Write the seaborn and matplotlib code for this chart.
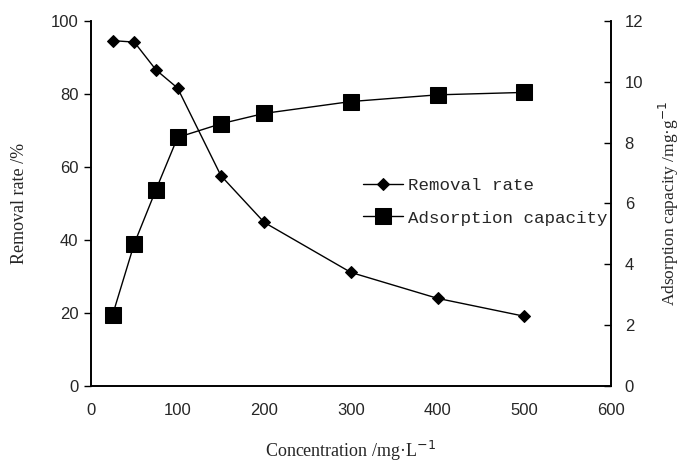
import matplotlib
matplotlib.use("Agg")
import matplotlib.pyplot as plt
import seaborn as sns
import pandas as pd

concentration = [25, 50, 75, 100, 150, 200, 300, 400, 500]
removal_rate = [94.6, 94.2, 86.6, 81.6, 57.6, 44.8, 31.1, 24.0, 19.1]
adsorption_capacity = [2.34, 4.68, 6.45, 8.17, 8.62, 8.96, 9.35, 9.57, 9.65]

x_ticks = [0, 100, 200, 300, 400, 500, 600]
left_ticks = [0, 20, 40, 60, 80, 100]
right_ticks = [0, 2, 4, 6, 8, 10, 12]

sns.set_style("white")
plt.rcParams['font.family'] = ['Liberation Serif', 'DejaVu Serif']

df = pd.DataFrame({"c": concentration, "r": removal_rate, "a": adsorption_capacity})

fig = plt.figure(figsize=(6.84, 4.65), dpi=100)
ax = fig.add_axes([0.133, 0.170, 0.760, 0.785])
ax2 = ax.twinx()

sns.lineplot(data=df, x="c", y="r", ax=ax, color="black", linewidth=1.0,
             marker="D", markersize=6, markeredgecolor="black", label="Removal rate", legend=False)
sns.lineplot(data=df, x="c", y="a", ax=ax2, color="black", linewidth=1.0,
             marker="s", markersize=11, markeredgecolor="black", label="Adsorption capacity", legend=False)

ax.set_xlim(0, 600)
ax.set_ylim(0, 100)
ax2.set_ylim(0, 12)
ax.set_xticks(x_ticks)
ax.set_yticks(left_ticks)
ax2.set_yticks(right_ticks)

tick_font = dict(family=['Liberation Sans', 'DejaVu Sans'], size=12)
ax.set_xticklabels([str(v) for v in x_ticks], **tick_font)
ax.set_yticklabels([str(v) for v in left_ticks], **tick_font)
ax2.set_yticklabels([str(v) for v in right_ticks], **tick_font)

for a in (ax, ax2):
    a.spines['top'].set_visible(False)
    for s in a.spines.values():
        s.set_color("black")
        s.set_linewidth(1.2)
    a.grid(False)

ax.tick_params(axis='x', direction='in', length=4, width=1, color='black', pad=12)
ax.tick_params(axis='y', direction='out', length=5, width=1, color='black', pad=4, left=True)
ax2.tick_params(axis='y', direction='in', length=5, width=1, color='black', pad=10, right=True)

ax.set_xlabel("Concentration /mg·L$^{-1}$", fontsize=13, labelpad=15)
ax.set_ylabel("Removal rate /%", fontsize=13, labelpad=16)
ax2.set_ylabel("Adsorption capacity /mg·g$^{-1}$", fontsize=12.5, labelpad=10)

handles = ax.get_lines()[:1] + ax2.get_lines()[:1]
leg = ax.legend(handles, ["Removal rate", "Adsorption capacity"],
                loc="upper left", bbox_to_anchor=(0.51, 0.59), frameon=False,
                handlelength=2.3, handletextpad=0.28, labelspacing=1.0,
                borderaxespad=0, prop={'family': 'Liberation Mono', 'size': 12.6})

fig.savefig("out.png", dpi=100)
